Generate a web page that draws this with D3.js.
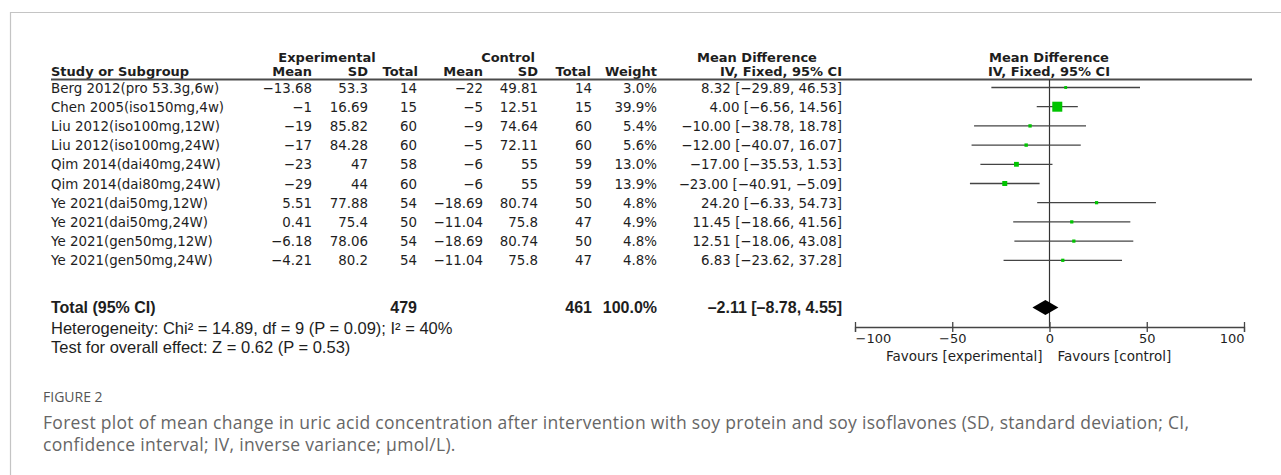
<!DOCTYPE html>
<html><head><meta charset="utf-8">
<script src="https://cdn.jsdelivr.net/npm/d3@7"></script>
<style>
html,body{margin:0;padding:0;background:#fff;}
svg{display:block;}
</style></head>
<body>
<svg id="chart" width="1281" height="475"></svg>
<script>
// ---- data ----
const studies = ["Berg 2012(pro 53.3g,6w)","Chen 2005(iso150mg,4w)","Liu 2012(iso100mg,12W)","Liu 2012(iso100mg,24W)","Qim 2014(dai40mg,24W)","Qim 2014(dai80mg,24W)","Ye 2021(dai50mg,12W)","Ye 2021(dai50mg,24W)","Ye 2021(gen50mg,12W)","Ye 2021(gen50mg,24W)"];
const expMean = ["−13.68","−1","−19","−17","−23","−29","5.51","0.41","−6.18","−4.21"];
const expSD = ["53.3","16.69","85.82","84.28","47","44","77.88","75.4","78.06","80.2"];
const expN = [14,15,60,60,58,60,54,50,54,54];
const ctlMean = ["−22","−5","−9","−5","−6","−6","−18.69","−11.04","−18.69","−11.04"];
const ctlSD = ["49.81","12.51","74.64","72.11","55","55","80.74","75.8","80.74","75.8"];
const ctlN = [14,15,60,60,59,59,50,47,50,47];
const weights = [3.0,39.9,5.4,5.6,13.0,13.9,4.8,4.9,4.8,4.8];
const md = [8.32,4.00,-10.00,-12.00,-17.00,-23.00,24.20,11.45,12.51,6.83];
const lo = [-29.89,-6.56,-38.78,-40.07,-35.53,-40.91,-6.33,-18.66,-18.06,-23.62];
const hi = [46.53,14.56,18.78,16.07,1.53,-5.09,54.73,41.56,43.08,37.28];
const total = {expN:479, ctlN:461, weight:"100.0%", md:-2.11, lo:-8.78, hi:4.55};
const tickValues = [-100,-50,0,50,100];
const tickLabels = ["−100","−50","0","50","100"];

const svg = d3.select("#chart");
const fmt = v => d3.format(".2f")(v).replace("-", "−");
const ciText = (m,l,h) => `${fmt(m)} [${fmt(l)}, ${fmt(h)}]`;

// frame
svg.append("line").attr("x1",10.5).attr("x2",10.5).attr("y1",12).attr("y2",475).attr("stroke","#c4c4c4").attr("stroke-width",1.2);
svg.append("line").attr("x1",10).attr("x2",1281).attr("y1",12.5).attr("y2",12.5).attr("stroke","#c4c4c4").attr("stroke-width",1.2);

const F = "'DejaVu Sans', sans-serif";
const FN = "'Liberation Sans', Arial, sans-serif";
const txtCol = "#1e1e1e";

// scales
const y = d3.scalePoint().domain(studies).range([87.5, 87.5 + 9*19.2]);
const x = d3.scaleLinear().domain([-100,100]).range([855,1244]);
const box = d3.scaleLinear().domain([0,39.9]).range([2.3,10]);

// header
const hdr = svg.append("g").attr("font-family",F).attr("font-weight","bold").attr("font-size",13).attr("fill",txtCol);
const h1 = 61.5, h2 = 75.5, ruleY = 79.5;
hdr.append("text").attr("x",327).attr("y",h1).attr("text-anchor","middle").text("Experimental");
hdr.append("text").attr("x",508).attr("y",h1).attr("text-anchor","middle").text("Control");
hdr.append("text").attr("x",757).attr("y",h1).attr("text-anchor","middle").text("Mean Difference");
hdr.append("text").attr("x",1049).attr("y",h1).attr("text-anchor","middle").text("Mean Difference");
hdr.append("text").attr("x",51).attr("y",h2).text("Study or Subgroup");
const cols = [
  {x:312,t:"Mean"},{x:368,t:"SD"},{x:418,t:"Total"},
  {x:483,t:"Mean"},{x:538,t:"SD"},{x:591,t:"Total"},
  {x:657,t:"Weight"},{x:842,t:"IV, Fixed, 95% CI"}];
cols.forEach(c => hdr.append("text").attr("x",c.x).attr("y",h2).attr("text-anchor","end").text(c.t));
hdr.append("text").attr("x",1049).attr("y",h2).attr("text-anchor","middle").text("IV, Fixed, 95% CI");

svg.append("line").attr("x1",51).attr("x2",1252).attr("y1",ruleY).attr("y2",ruleY).attr("stroke","#4a4a4a").attr("stroke-width",2);

// rows
const rows = svg.append("g").attr("font-family",F).attr("font-size",13.4).attr("fill",txtCol);
studies.forEach((s,i) => {
  const yy = y(s) + 5;
  rows.append("text").attr("x",51).attr("y",yy).text(s);
  const vals = [[312,expMean[i]],[368,expSD[i]],[417,expN[i]],[483,ctlMean[i]],[538,ctlSD[i]],[592,ctlN[i]],[657,weights[i].toFixed(1)+"%"],[842,ciText(md[i],lo[i],hi[i])]];
  vals.forEach(v => rows.append("text").attr("x",v[0]).attr("y",yy).attr("text-anchor","end").text(v[1]));
});

// total rows
const yT = 307.5;
const tg = svg.append("g").attr("font-family",FN).attr("font-weight","bold").attr("font-size",16).attr("fill",txtCol);
tg.append("text").attr("x",51).attr("y",yT+5.5).text("Total (95% CI)");
tg.append("text").attr("x",417).attr("y",yT+5.5).attr("text-anchor","end").text(total.expN);
tg.append("text").attr("x",592).attr("y",yT+5.5).attr("text-anchor","end").text(total.ctlN);
tg.append("text").attr("x",657).attr("y",yT+5.5).attr("text-anchor","end").text(total.weight);
tg.append("text").attr("x",842).attr("y",yT+5.5).attr("text-anchor","end").text(ciText(total.md,total.lo,total.hi).replace(/−/g,"–"));
const sg = svg.append("g").attr("font-family",FN).attr("font-size",16.5).attr("fill",txtCol);
sg.append("text").attr("x",51).attr("y",334).text("Heterogeneity: Chi² = 14.89, df = 9 (P = 0.09); I² = 40%");
sg.append("text").attr("x",51).attr("y",353).text("Test for overall effect: Z = 0.62 (P = 0.53)");

// plot
const axisY = 327;
const plot = svg.append("g");
plot.append("line").attr("x1",x(0)).attr("x2",x(0)).attr("y1",ruleY).attr("y2",axisY).attr("stroke","#333").attr("stroke-width",1.2);
studies.forEach((s,i) => {
  plot.append("line").attr("x1",x(lo[i])).attr("x2",x(hi[i])).attr("y1",y(s)).attr("y2",y(s)).attr("stroke","#444").attr("stroke-width",1.3);
  const b = box(weights[i]);
  plot.append("rect").attr("x",x(md[i])-b/2).attr("y",y(s)-b/2).attr("width",b).attr("height",b).attr("fill","#00c400");
});
plot.append("polygon").attr("points",[[x(total.lo),yT],[x(total.md),yT-7.5],[x(total.hi),yT],[x(total.md),yT+7.5]].map(p=>p.join(",")).join(" ")).attr("fill","#000");

const ax = svg.append("g").attr("transform",`translate(0,${axisY})`)
  .call(d3.axisBottom(x).tickValues(tickValues).tickSize(5).tickFormat(""));
ax.select(".domain").attr("stroke","#444").attr("stroke-width",1.3);
ax.selectAll(".tick line").attr("y1",-5).attr("y2",5).attr("stroke","#444").attr("stroke-width",1.3);
ax.selectAll(".tick").append("text").attr("class","lbl")
  .attr("y",16).attr("fill",txtCol).attr("font-family",F).attr("font-size",13)
  .attr("text-anchor",(d,i)=> i===0 ? "start" : (i===tickValues.length-1 ? "end" : "middle"))
  .text((d,i)=>tickLabels[i]);
const fv = svg.append("g").attr("font-family",F).attr("font-size",13.5).attr("fill",txtCol);
fv.append("text").attr("x",x(0)-7).attr("y",361).attr("text-anchor","end").text("Favours [experimental]");
fv.append("text").attr("x",x(0)+8).attr("y",361).text("Favours [control]");

// caption
svg.append("text").attr("x",43).attr("y",402).attr("font-family","'Open Sans', sans-serif").attr("font-size",14).attr("fill","#555").text("FIGURE 2");
const cap = svg.append("g").attr("font-family","'Open Sans', sans-serif").attr("font-size",17.5).attr("letter-spacing",0.3).attr("fill","#666");
cap.append("text").attr("x",43).attr("y",429).text("Forest plot of mean change in uric acid concentration after intervention with soy protein and soy isoflavones (SD, standard deviation; CI,");
cap.append("text").attr("x",43).attr("y",451).text("confidence interval; IV, inverse variance; µmol/L).");
</script>
</body></html>
